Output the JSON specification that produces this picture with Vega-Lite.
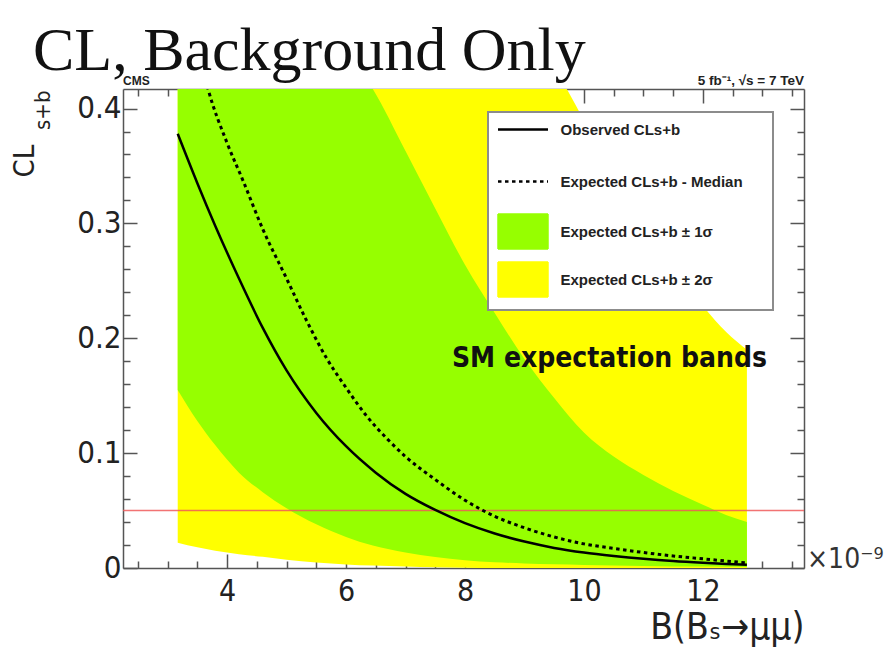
{
  "$schema": "https://vega.github.io/schema/vega-lite/v6.json",
  "width": 681,
  "height": 479,
  "autosize": {"type": "none"},
  "padding": {"left": 123, "top": 89, "right": 81, "bottom": 95},
  "background": "white",
  "title": {"text": "CL, Background Only", "anchor": "start", "frame": "group", "font": "Liberation Serif", "fontSize": 62, "fontWeight": "normal", "color": "#111111", "dx": -90, "dy": 62, "offset": 4, "baseline": "alphabetic"},
  "config": {
    "view": {"stroke": null},
    "axis": {"domainColor": "#555555", "domainWidth": 1.5, "tickColor": "#555555", "tickWidth": 1.5, "labelFont": "DejaVu Sans Condensed", "labelFontSize": 30, "labelColor": "#222222", "zindex": 1, "grid": false, "labelOverlap": false, "labelFlush": false},
    "legend": {"orient": "none", "legendX": 365, "legendY": 23, "title": null, "padding": 10, "fillColor": "#ffffff", "strokeColor": "#8c8c8c", "strokeWidth": 2,
      "labelFont": "Liberation Sans", "labelFontWeight": "bold", "labelFontSize": 15, "labelColor": "#222222", "labelLimit": 400,
      "symbolSize": 625, "rowPadding": 7, "symbolOffset": 17.5, "labelOffset": 30, "zindex": 2}
  },
  "datasets": {
    "bands": [
      {"x": 3.17, "lo2": 0.022, "lo1": 0.155, "up1": 1.0, "up2": 1.5},
      {"x": 3.5, "lo2": 0.018, "lo1": 0.128, "up1": 0.88, "up2": 1.35},
      {"x": 3.8, "lo2": 0.015, "lo1": 0.107, "up1": 0.78, "up2": 1.22},
      {"x": 4.2, "lo2": 0.012, "lo1": 0.083, "up1": 0.68, "up2": 1.08},
      {"x": 4.6, "lo2": 0.0097, "lo1": 0.066, "up1": 0.61, "up2": 0.98},
      {"x": 5.0, "lo2": 0.0072, "lo1": 0.052, "up1": 0.55, "up2": 0.9},
      {"x": 5.5, "lo2": 0.0048, "lo1": 0.038, "up1": 0.49, "up2": 0.81},
      {"x": 6.0, "lo2": 0.0031, "lo1": 0.027, "up1": 0.45, "up2": 0.74},
      {"x": 6.45, "lo2": 0.0021, "lo1": 0.0195, "up1": 0.417, "up2": 0.68},
      {"x": 7.0, "lo2": 0.0012, "lo1": 0.0135, "up1": 0.363, "up2": 0.62},
      {"x": 7.5, "lo2": 0.0006, "lo1": 0.0095, "up1": 0.313, "up2": 0.57},
      {"x": 8.0, "lo2": 0.0003, "lo1": 0.0068, "up1": 0.264, "up2": 0.525},
      {"x": 8.5, "lo2": 0, "lo1": 0.005, "up1": 0.222, "up2": 0.495},
      {"x": 9.0, "lo2": 0, "lo1": 0.004, "up1": 0.182, "up2": 0.465},
      {"x": 9.5, "lo2": 0, "lo1": 0.0032, "up1": 0.148, "up2": 0.435},
      {"x": 10.0, "lo2": 0, "lo1": 0.0026, "up1": 0.118, "up2": 0.39},
      {"x": 10.5, "lo2": 0, "lo1": 0.0021, "up1": 0.097, "up2": 0.345},
      {"x": 11.0, "lo2": 0, "lo1": 0.0017, "up1": 0.081, "up2": 0.3},
      {"x": 11.5, "lo2": 0, "lo1": 0.0014, "up1": 0.067, "up2": 0.262},
      {"x": 12.0, "lo2": 0, "lo1": 0.0012, "up1": 0.055, "up2": 0.228},
      {"x": 12.4, "lo2": 0, "lo1": 0.001, "up1": 0.046, "up2": 0.205},
      {"x": 12.74, "lo2": 0, "lo1": 0.0009, "up1": 0.04, "up2": 0.19}
    ],
    "observed": [
      {"x": 3.17, "y": 0.378}, {"x": 3.5, "y": 0.335}, {"x": 3.8, "y": 0.298}, {"x": 4.2, "y": 0.252},
      {"x": 4.6, "y": 0.209}, {"x": 5.0, "y": 0.172}, {"x": 5.5, "y": 0.135}, {"x": 6.0, "y": 0.106},
      {"x": 6.5, "y": 0.083}, {"x": 7.0, "y": 0.0645}, {"x": 7.5, "y": 0.0505}, {"x": 8.0, "y": 0.039},
      {"x": 8.5, "y": 0.030}, {"x": 9.0, "y": 0.023}, {"x": 9.5, "y": 0.0175}, {"x": 10.0, "y": 0.0135},
      {"x": 10.5, "y": 0.0105}, {"x": 11.0, "y": 0.008}, {"x": 11.5, "y": 0.006}, {"x": 12.0, "y": 0.0045},
      {"x": 12.4, "y": 0.0035}, {"x": 12.74, "y": 0.0028}
    ],
    "median": [
      {"x": 3.17, "y": 0.52}, {"x": 3.5, "y": 0.455}, {"x": 3.68, "y": 0.417}, {"x": 4.0, "y": 0.37},
      {"x": 4.27, "y": 0.337}, {"x": 4.6, "y": 0.295}, {"x": 5.0, "y": 0.252}, {"x": 5.34, "y": 0.215},
      {"x": 5.68, "y": 0.182}, {"x": 6.0, "y": 0.157}, {"x": 6.35, "y": 0.132}, {"x": 6.7, "y": 0.112},
      {"x": 7.0, "y": 0.097}, {"x": 7.5, "y": 0.077}, {"x": 8.0, "y": 0.059}, {"x": 8.5, "y": 0.045},
      {"x": 9.0, "y": 0.035}, {"x": 9.5, "y": 0.027}, {"x": 10.0, "y": 0.021}, {"x": 10.5, "y": 0.017},
      {"x": 11.0, "y": 0.0135}, {"x": 11.5, "y": 0.0105}, {"x": 12.0, "y": 0.008}, {"x": 12.4, "y": 0.006},
      {"x": 12.74, "y": 0.0045}
    ],
    "threshold": [{"y": 0.05}]
  },
  "resolve": {"axis": {"x": "independent", "y": "independent"}},
  "layer": [
    {
      "data": {"name": "bands"},
      "mark": {"type": "area", "clip": true, "opacity": 1, "interpolate": "monotone"},
      "encoding": {
        "x": {"field": "x", "type": "quantitative", "scale": {"domain": [2.25, 13.7], "nice": false, "zero": false},
          "axis": {"orient": "bottom", "values": [2.5,3,3.5,4,4.5,5,5.5,6,6.5,7,7.5,8,8.5,9,9.5,10,10.5,11,11.5,12,12.5,13,13.5],
            "labelExpr": "datum.value % 2 === 0 ? format(datum.value, 'd') : ''",
            "tickSize": {"condition": {"test": "datum.value % 2 === 0", "value": -14}, "value": -7},
            "labelPadding": 22,
            "title": "B(Bₛ→μμ)", "titleX": 681, "titleY": 70, "titleAlign": "right", "titleAnchor": "end", "titleBaseline": "alphabetic",
            "titleFont": "DejaVu Sans Condensed", "titleFontSize": 37, "titleFontWeight": "normal", "titleColor": "#222222"}},
        "y": {"field": "lo2", "type": "quantitative", "scale": {"domain": [0, 0.417], "nice": false, "zero": false},
          "axis": {"orient": "left", "values": [0,0.02,0.04,0.06,0.08,0.1,0.12,0.14,0.16,0.18,0.2,0.22,0.24,0.26,0.28,0.3,0.32,0.34,0.36,0.38,0.4],
            "labelExpr": "abs(datum.value*10 - round(datum.value*10)) < 0.001 ? format(datum.value, '.1~f') : ''",
            "tickSize": {"condition": {"test": "abs(datum.value*10 - round(datum.value*10)) < 0.001", "value": -14}, "value": -7},
            "labelPadding": 16, "labelFontSize": 31,
            "title": "CL", "titleX": -90, "titleY": 88, "titleAngle": 270, "titleAlign": "left", "titleBaseline": "alphabetic",
            "titleFont": "DejaVu Sans Condensed", "titleFontSize": 29, "titleFontWeight": "normal", "titleColor": "#222222"}},
        "y2": {"field": "up2"},
        "color": {"datum": "Expected CLs+b ± 2σ", "type": "nominal",
          "scale": {"domain": ["Observed CLs+b", "Expected CLs+b - Median", "Expected CLs+b ± 1σ", "Expected CLs+b ± 2σ"], "range": ["#000000", "#000000", "#96ff00", "#ffff00"]},
          "legend": {
            "encode": {
              "symbols": {"update": {
                "shape": {"signal": "(datum.value === 'Observed CLs+b' || datum.value === 'Expected CLs+b - Median') ? 'M-2.4,-1.4M18.8,1.4M-2,0H2' : 'M-2.4,0M18.8,0M-2,-1.4H2V1.4H-2Z'"},
                "fill": {"signal": "(datum.value === 'Observed CLs+b' || datum.value === 'Expected CLs+b - Median') ? 'transparent' : (datum.value === 'Expected CLs+b ± 1σ' ? '#96ff00' : '#ffff00')"},
                "stroke": {"signal": "(datum.value === 'Observed CLs+b' || datum.value === 'Expected CLs+b - Median') ? '#000000' : '#555555'"},
                "strokeDash": {"signal": "datum.value === 'Expected CLs+b - Median' ? [3.5, 3.5] : [1, 0]"},
                "strokeWidth": {"signal": "(datum.value === 'Observed CLs+b' || datum.value === 'Expected CLs+b - Median') ? 2.5 : 1.5"},
                "opacity": {"value": 1}
              }}
            }}
        }
      }
    },
    {
      "data": {"name": "bands"},
      "mark": {"type": "area", "clip": true, "opacity": 1, "interpolate": "monotone"},
      "encoding": {
        "x": {"field": "x", "type": "quantitative",
          "axis": {"orient": "top", "values": [2.5,3,3.5,4,4.5,5,5.5,6,6.5,7,7.5,8,8.5,9,9.5,10,10.5,11,11.5,12,12.5,13,13.5], "labels": false, "title": null,
            "tickSize": {"condition": {"test": "datum.value % 2 === 0", "value": -14}, "value": -7}}},
        "y": {"field": "lo1", "type": "quantitative",
          "axis": {"orient": "right", "values": [0,0.02,0.04,0.06,0.08,0.1,0.12,0.14,0.16,0.18,0.2,0.22,0.24,0.26,0.28,0.3,0.32,0.34,0.36,0.38,0.4], "labels": false, "title": null,
            "tickSize": {"condition": {"test": "abs(datum.value*10 - round(datum.value*10)) < 0.001", "value": -14}, "value": -7}}},
        "y2": {"field": "up1"},
        "color": {"datum": "Expected CLs+b ± 1σ", "type": "nominal",
          "legend": {
            "encode": {
              "symbols": {"update": {
                "shape": {"signal": "(datum.value === 'Observed CLs+b' || datum.value === 'Expected CLs+b - Median') ? 'M-2.4,-1.4M18.8,1.4M-2,0H2' : 'M-2.4,0M18.8,0M-2,-1.4H2V1.4H-2Z'"},
                "fill": {"signal": "(datum.value === 'Observed CLs+b' || datum.value === 'Expected CLs+b - Median') ? 'transparent' : (datum.value === 'Expected CLs+b ± 1σ' ? '#96ff00' : '#ffff00')"},
                "stroke": {"signal": "(datum.value === 'Observed CLs+b' || datum.value === 'Expected CLs+b - Median') ? '#000000' : '#555555'"},
                "strokeDash": {"signal": "datum.value === 'Expected CLs+b - Median' ? [3.5, 3.5] : [1, 0]"},
                "strokeWidth": {"signal": "(datum.value === 'Observed CLs+b' || datum.value === 'Expected CLs+b - Median') ? 2.5 : 1.5"},
                "opacity": {"value": 1}
              }}
            }}}
      }
    },
    {
      "data": {"name": "threshold"},
      "mark": {"type": "rule", "color": "#f05a5a", "strokeWidth": 1.5, "opacity": 0.85},
      "encoding": {"y": {"field": "y", "type": "quantitative", "axis": null}}
    },
    {
      "data": {"name": "observed"},
      "mark": {"type": "line", "clip": true, "strokeWidth": 2.5, "interpolate": "monotone"},
      "encoding": {
        "x": {"field": "x", "type": "quantitative", "axis": null},
        "y": {"field": "y", "type": "quantitative", "axis": null},
        "color": {"datum": "Observed CLs+b", "type": "nominal",
          "legend": {
            "encode": {
              "symbols": {"update": {
                "shape": {"signal": "(datum.value === 'Observed CLs+b' || datum.value === 'Expected CLs+b - Median') ? 'M-2.4,-1.4M18.8,1.4M-2,0H2' : 'M-2.4,0M18.8,0M-2,-1.4H2V1.4H-2Z'"},
                "fill": {"signal": "(datum.value === 'Observed CLs+b' || datum.value === 'Expected CLs+b - Median') ? 'transparent' : (datum.value === 'Expected CLs+b ± 1σ' ? '#96ff00' : '#ffff00')"},
                "stroke": {"signal": "(datum.value === 'Observed CLs+b' || datum.value === 'Expected CLs+b - Median') ? '#000000' : '#555555'"},
                "strokeDash": {"signal": "datum.value === 'Expected CLs+b - Median' ? [3.5, 3.5] : [1, 0]"},
                "strokeWidth": {"signal": "(datum.value === 'Observed CLs+b' || datum.value === 'Expected CLs+b - Median') ? 2.5 : 1.5"},
                "opacity": {"value": 1}
              }}
            }}}
      }
    },
    {
      "data": {"name": "median"},
      "mark": {"type": "line", "clip": true, "strokeWidth": 3, "strokeDash": [3.5, 3.5], "interpolate": "monotone"},
      "encoding": {
        "x": {"field": "x", "type": "quantitative", "axis": null},
        "y": {"field": "y", "type": "quantitative", "axis": null},
        "color": {"datum": "Expected CLs+b - Median", "type": "nominal",
          "legend": {
            "encode": {
              "symbols": {"update": {
                "shape": {"signal": "(datum.value === 'Observed CLs+b' || datum.value === 'Expected CLs+b - Median') ? 'M-2.4,-1.4M18.8,1.4M-2,0H2' : 'M-2.4,0M18.8,0M-2,-1.4H2V1.4H-2Z'"},
                "fill": {"signal": "(datum.value === 'Observed CLs+b' || datum.value === 'Expected CLs+b - Median') ? 'transparent' : (datum.value === 'Expected CLs+b ± 1σ' ? '#96ff00' : '#ffff00')"},
                "stroke": {"signal": "(datum.value === 'Observed CLs+b' || datum.value === 'Expected CLs+b - Median') ? '#000000' : '#555555'"},
                "strokeDash": {"signal": "datum.value === 'Expected CLs+b - Median' ? [3.5, 3.5] : [1, 0]"},
                "strokeWidth": {"signal": "(datum.value === 'Observed CLs+b' || datum.value === 'Expected CLs+b - Median') ? 2.5 : 1.5"},
                "opacity": {"value": 1}
              }}
            }}}
      }
    },
    {
      "data": {"values": [{"label": "SM expectation bands"}]},
      "mark": {"type": "text", "align": "left", "baseline": "alphabetic", "font": "DejaVu Sans Condensed", "fontWeight": "bold", "fontSize": 28, "color": "#111111"},
      "encoding": {
        "x": {"datum": 7.78, "type": "quantitative", "axis": null},
        "y": {"datum": 0.175, "type": "quantitative", "axis": null},
        "text": {"field": "label"}
      }
    },
    {
      "data": {"values": [{"label": "CMS"}]},
      "mark": {"type": "text", "align": "left", "baseline": "alphabetic", "dy": -4, "font": "Liberation Sans", "fontWeight": "bold", "fontSize": 12, "color": "#222222"},
      "encoding": {
        "x": {"datum": 2.25, "type": "quantitative", "axis": null},
        "y": {"datum": 0.417, "type": "quantitative", "axis": null},
        "text": {"field": "label"}
      }
    },
    {
      "data": {"values": [{"label": "5  fb⁻¹, √s = 7 TeV"}]},
      "mark": {"type": "text", "align": "right", "baseline": "alphabetic", "dy": -4, "font": "Liberation Sans", "fontWeight": "bold", "fontSize": 13.5, "color": "#222222"},
      "encoding": {
        "x": {"datum": 13.7, "type": "quantitative", "axis": null},
        "y": {"datum": 0.417, "type": "quantitative", "axis": null},
        "text": {"field": "label"}
      }
    },
    {
      "data": {"values": [{"label": "×10⁻⁹"}]},
      "mark": {"type": "text", "align": "left", "baseline": "alphabetic", "dx": 3, "dy": 0, "font": "DejaVu Sans Condensed", "fontSize": 28, "color": "#333333"},
      "encoding": {
        "x": {"datum": 13.7, "type": "quantitative", "axis": null},
        "y": {"datum": 0, "type": "quantitative", "axis": null},
        "text": {"field": "label"}
      }
    },
    {
      "data": {"values": [{"label": "s+b"}]},
      "mark": {"type": "text", "align": "left", "baseline": "alphabetic", "angle": 270, "dx": -41, "dy": -73, "font": "DejaVu Sans Condensed", "fontSize": 22, "color": "#222222"},
      "encoding": {
        "x": {"datum": 2.25, "type": "quantitative", "axis": null},
        "y": {"datum": 0.417, "type": "quantitative", "axis": null},
        "text": {"field": "label"}
      }
    }
  ]
}
